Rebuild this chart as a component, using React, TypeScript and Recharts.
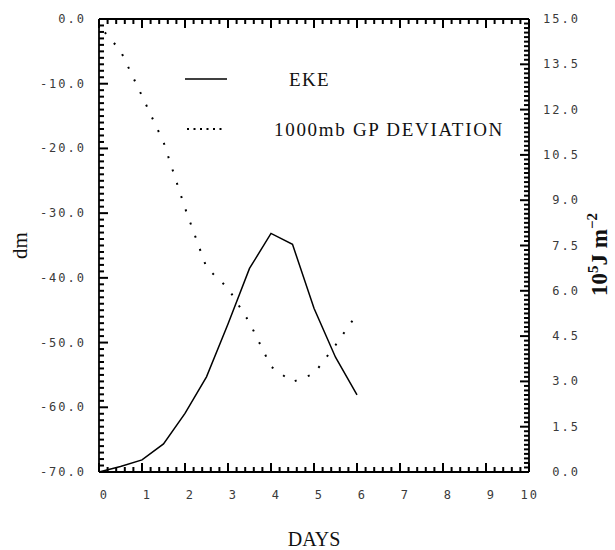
import { LineChart, Line, XAxis, YAxis } from 'recharts';

// days since start (half-day steps)
const days = [0, 0.5, 1, 1.5, 2, 2.5, 3, 3.5, 4, 4.5, 5, 5.5, 6];
// eddy kinetic energy, 10^5 J m^-2 (right axis)
const ekeValues = [0, 0.18, 0.4, 0.93, 1.94, 3.15, 4.9, 6.74, 7.9, 7.54, 5.42, 3.8, 2.55];
// 1000mb geopotential deviation, dm (left axis)
const gpValues = [-1.0, -4.9, -11.9, -19.0, -29.2, -38.4, -41.6, -46.9, -53.7, -56.1, -54.8, -50.4, -45.6];

// major ticks
const dayTicks = [0, 1, 2, 3, 4, 5, 6, 7, 8, 9, 10];
const dmTicks = [0, -10, -20, -30, -40, -50, -60, -70];
const ekeTicks = [0, 1.5, 3, 4.5, 6, 7.5, 9, 10.5, 12, 13.5, 15];

// minor ticks: n subdivisions between each pair of majors
const subdivide = (majors: number[], n: number) => {
  const sorted = [...majors].sort((a, b) => a - b);
  const out: number[] = [];
  for (let i = 0; i < sorted.length - 1; i++) {
    const step = (sorted[i + 1] - sorted[i]) / n;
    for (let k = 0; k < n; k++) out.push(+(sorted[i] + k * step).toFixed(4));
  }
  out.push(sorted[sorted.length - 1]);
  return out;
};

const dayMinor = subdivide(dayTicks, 5);
const dmMinor = subdivide(dmTicks, 10);
const ekeMinor = subdivide(ekeTicks, 10);

const data = days.map((d, i) => ({ day: d, eke: ekeValues[i], gp: gpValues[i] }));

// layout
const W = 615;
const H = 550;
const TOP_H = 19;
const BOTTOM_H = 78;
const PLOT_H = H - TOP_H - BOTTOM_H;

const isIn = (list: number[], v: number) => list.some((t) => Math.abs(t - v) < 1e-6);

const tickFont = {
  fontFamily: '"DejaVu Sans Mono", monospace',
  fontSize: 12,
  letterSpacing: 2,
  fill: '#3a3a3a',
};
const tickStroke = { stroke: '#000', strokeWidth: 2, fill: 'none' };

// bottom axis ticks, mirrored onto the top frame edge as well
const renderBottomTick = (p: any) => {
  const { x, y, payload } = p;
  const major = isIn(dayTicks, payload.value);
  const len = major ? 9 : 5;
  const top = y - PLOT_H;
  return (
    <g key={`b-${payload.value}`}>
      <path d={`M${x},${y}V${y - len}`} {...tickStroke} />
      <path d={`M${x},${top}V${top + len}`} {...tickStroke} />
      {major && (
        <text x={x + 10} y={y + 27} textAnchor="end" {...tickFont}>
          {Math.round(payload.value)}
        </text>
      )}
    </g>
  );
};

const renderLeftTick = (p: any) => {
  const { x, y, payload } = p;
  const major = isIn(dmTicks, payload.value);
  return (
    <g key={`l-${payload.value}`}>
      <path d={`M${x},${y}H${x + (major ? 9 : 5)}`} {...tickStroke} />
      {major && (
        <text x={x - 13} y={y + 4} textAnchor="end" {...tickFont}>
          {payload.value.toFixed(1)}
        </text>
      )}
    </g>
  );
};

const renderRightTick = (p: any) => {
  const { x, y, payload } = p;
  const major = isIn(ekeTicks, payload.value);
  return (
    <g key={`r-${payload.value}`}>
      <path d={`M${x},${y}H${x - (major ? 9 : 5)}`} {...tickStroke} />
      {major && (
        <text x={x + 51} y={y + 4} textAnchor="end" {...tickFont}>
          {payload.value.toFixed(1)}
        </text>
      )}
    </g>
  );
};

const serif = '"Liberation Serif", "Times New Roman", serif';

const RightTitle = ({ viewBox }: any) => {
  const cx = viewBox.x + 78;
  const cy = viewBox.y + viewBox.height / 2 + 9;
  return (
    <text
      x={cx}
      y={cy}
      transform={`rotate(-90 ${cx} ${cy})`}
      textAnchor="middle"
      fontFamily={serif}
      fontSize={23}
      fontWeight="bold"
      fill="#111"
    >
      10<tspan dy={-9} fontSize={15}>5</tspan>
      <tspan dy={9}>J m</tspan>
      <tspan dy={-10} fontSize={15}>−2</tspan>
    </text>
  );
};

export default function App() {
  return (
    <div style={{ position: 'absolute', left: 0, top: 0, width: W, height: H, background: '#fff' }}>
      <LineChart width={W} height={H} data={data} margin={{ top: 0, right: 0, bottom: 0, left: 0 }}>
        <XAxis
          xAxisId="bottom"
          dataKey="day"
          type="number"
          domain={[0, 10]}
          ticks={dayMinor}
          interval={0}
          height={BOTTOM_H}
          tickSize={0}
          tickMargin={0}
          tickLine={false}
          tick={renderBottomTick}
          axisLine={{ stroke: '#000', strokeWidth: 1.8 }}
          label={{
            value: 'DAYS',
            position: 'insideBottom',
            offset: 4,
            style: { fontFamily: serif, fontSize: 20, fill: '#111' },
          }}
        />
        <XAxis
          xAxisId="top"
          orientation="top"
          dataKey="day"
          type="number"
          domain={[0, 10]}
          ticks={dayTicks}
          height={TOP_H}
          tick={false}
          tickLine={false}
          axisLine={{ stroke: '#000', strokeWidth: 1.8 }}
        />
        <YAxis
          yAxisId="left"
          type="number"
          domain={[-70, 0]}
          ticks={dmMinor}
          interval={0}
          width={99}
          tickSize={0}
          tickMargin={0}
          tickLine={false}
          tick={renderLeftTick}
          axisLine={{ stroke: '#000', strokeWidth: 1.8 }}
          label={{
            value: 'dm',
            angle: -90,
            position: 'insideLeft',
            offset: 20,
            style: { fontFamily: serif, fontSize: 21, fill: '#111', textAnchor: 'middle' },
          }}
        />
        <YAxis
          yAxisId="right"
          orientation="right"
          type="number"
          domain={[0, 15]}
          ticks={ekeMinor}
          interval={0}
          width={86}
          tickSize={0}
          tickMargin={0}
          tickLine={false}
          tick={renderRightTick}
          axisLine={{ stroke: '#000', strokeWidth: 1.8 }}
          label={{ content: <RightTitle /> }}
        />
        <Line
          xAxisId="bottom"
          yAxisId="right"
          type="linear"
          dataKey="eke"
          stroke="#000"
          strokeWidth={1.5}
          dot={false}
          isAnimationActive={false}
        />
        <Line
          xAxisId="bottom"
          yAxisId="left"
          type="linear"
          dataKey="gp"
          stroke="#000"
          strokeWidth={2}
          strokeDasharray="2 12"
          strokeDashoffset={-9}
          dot={false}
          isAnimationActive={false}
        />
      </LineChart>
      {/* legend */}
      <div style={{ position: 'absolute', left: 180, top: 62, width: 340, height: 90, pointerEvents: 'none' }}>
        <svg width={340} height={90}>
          <line x1={5} y1={17} x2={47} y2={17} stroke="#000" strokeWidth={1.5} />
          <text x={109} y={24} fontFamily={serif} fontSize={19} letterSpacing={1.3} fill="#111">
            EKE
          </text>
          <line x1={7} y1={67} x2={44} y2={67} stroke="#000" strokeWidth={2} strokeDasharray="2 4.5" />
          <text x={94} y={74} fontFamily={serif} fontSize={19} letterSpacing={1.7} fill="#111">
            1000mb GP DEVIATION
          </text>
        </svg>
      </div>
    </div>
  );
}
